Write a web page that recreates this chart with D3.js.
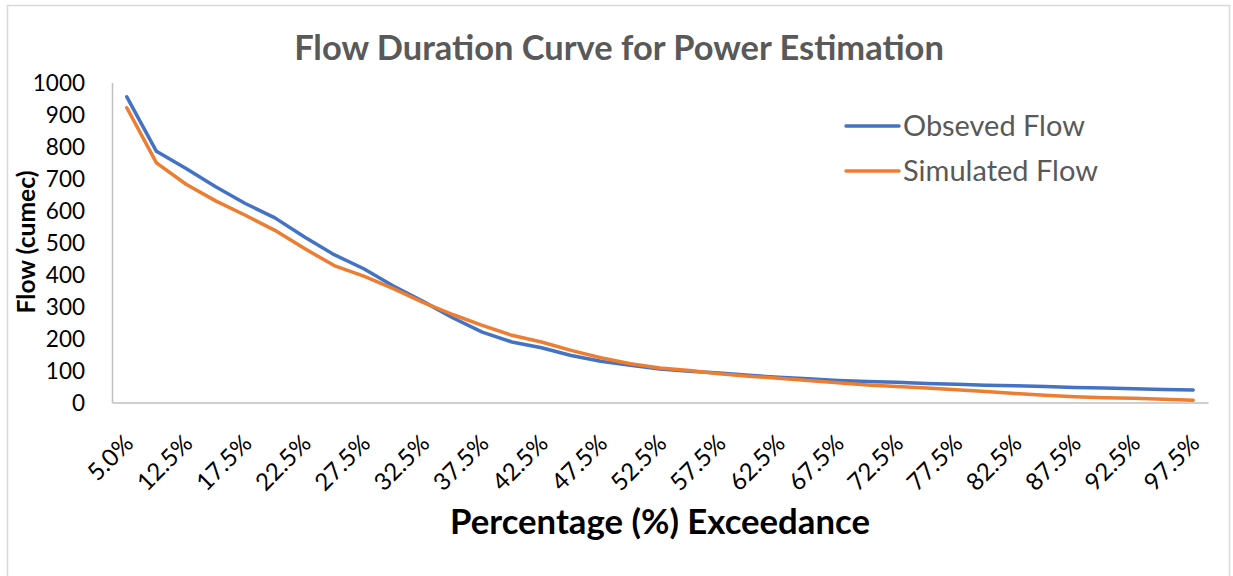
<!DOCTYPE html>
<html>
<head>
<meta charset="utf-8">
<script src="https://cdn.jsdelivr.net/npm/d3@7"></script>
<style>
	body { margin: 0; background: #fff; }
	svg { display: block; font-family: Lato, "Open Sans", sans-serif; }
</style>
</head>
<body>
<svg id="chart" width="1233" height="576"></svg>
<script>
// Chart data
var categories = ["5.0%", "10.0%", "12.5%", "15.0%", "17.5%", "20.0%", "22.5%", "25.0%", "27.5%", "30.0%",
	"32.5%", "35.0%", "37.5%", "40.0%", "42.5%", "45.0%", "47.5%", "50.0%", "52.5%", "55.0%",
	"57.5%", "60.0%", "62.5%", "65.0%", "67.5%", "70.0%", "72.5%", "75.0%", "77.5%", "80.0%",
	"82.5%", "85.0%", "87.5%", "90.0%", "92.5%", "95.0%", "97.5%"];
var observedFlow = [955, 785, 731, 674, 622, 577, 517, 462, 418, 364,
	316, 265, 220, 189, 171, 147, 129, 116, 105, 98,
	92, 85, 79, 74, 69, 66, 63, 59, 57, 54,
	52, 50, 47, 45, 43, 41, 39];
var simulatedFlow = [921, 749, 682, 630, 585, 538, 481, 428, 395, 356,
	313, 275, 241, 210, 189, 163, 140, 121, 108, 100,
	90, 82, 76, 69, 62, 55, 50, 45, 40, 34,
	28, 23, 18, 15, 13, 10, 7];
var yTicks = [0, 100, 200, 300, 400, 500, 600, 700, 800, 900, 1000];
var seriesNames = ["Obseved Flow", "Simulated Flow"];
var seriesColors = ["#4472C4", "#ED7D31"];

var svg = d3.select("#chart");

// Plot area
var plot = {left: 112, right: 1208, top: 82.5, bottom: 402.5};

var x = d3.scaleBand()
	.domain(categories)
	.range([plot.left, plot.right])
	.padding(0);
var y = d3.scaleLinear()
	.domain([0, 1000])
	.range([plot.bottom, plot.top]);
var cx = (d) => x(d) + x.bandwidth() / 2;

// Scale a text node so it spans a given width
var fitWidth = (sel, w) => {
	let len = sel.node().getComputedTextLength();
	let fs = parseFloat(sel.style("font-size"));
	sel.style("font-size", (fs * w / len) + "px");
}

// Chart frame
svg.append("rect")
	.attr("x", 7.5)
	.attr("y", 5.5)
	.attr("width", 1222)
	.attr("height", 620)
	.attr("fill", "none")
	.attr("stroke", "#d9d9d9")
	.attr("stroke-width", 1.5);

// Title
var title = svg.append("text")
	.attr("x", 619)
	.attr("y", 60)
	.attr("text-anchor", "middle")
	.style("font-size", "28px")
	.style("font-weight", "bold")
	.style("fill", "#595959")
	.text("Flow Duration Curve for Power Estimation");
fitWidth(title, 650);

// Y axis
var yAxis = svg.append("g")
	.attr("transform", "translate(" + plot.left + ",0)")
	.call(d3.axisLeft(y).tickValues(yTicks).tickSize(0).tickPadding(27).tickFormat(d3.format("d")));
yAxis.select(".domain").attr("stroke", "#bfbfbf").attr("stroke-width", 1.5);
yAxis.selectAll("text")
	.style("font-family", "Lato, sans-serif")
	.style("font-size", "22.5px")
	.style("fill", "#000")
	.attr("dy", "0.35em");

// X axis
var xAxis = svg.append("g")
	.attr("transform", "translate(0," + plot.bottom + ")")
	.call(d3.axisBottom(x).tickSize(0).tickFormat(""));
xAxis.select(".domain").attr("stroke", "#bfbfbf").attr("stroke-width", 1.5);

// X tick labels, every other category, rotated
svg.append("g")
	.selectAll("text")
	.data(categories.filter((d, i) => i % 2 == 0))
	.enter()
	.append("text")
	.attr("transform", (d) => "translate(" + (cx(d) + 8) + "," + 445 + ") rotate(-45)")
	.attr("text-anchor", "end")
	.style("font-size", "24px")
	.style("fill", "#000")
	.text((d) => d);

// Axis titles
var yTitle = svg.append("text")
	.attr("transform", "translate(35,242) rotate(-90)")
	.attr("text-anchor", "middle")
	.style("font-size", "20px")
	.style("font-weight", "bold")
	.style("fill", "#000")
	.text("Flow (cumec)");
fitWidth(yTitle, 143);

var xTitle = svg.append("text")
	.attr("x", 660)
	.attr("y", 534)
	.attr("text-anchor", "middle")
	.style("font-size", "32px")
	.style("font-weight", "bold")
	.style("fill", "#000")
	.text("Percentage (%) Exceedance");
fitWidth(xTitle, 420);

// Lines
var line = d3.line()
	.x((d, i) => cx(categories[i]))
	.y((d) => y(d));

[observedFlow, simulatedFlow].forEach(function(s, k) {
	svg.append("path")
		.datum(s)
		.attr("d", line)
		.attr("fill", "none")
		.attr("stroke", seriesColors[k])
		.attr("stroke-width", 3.5)
		.attr("stroke-linejoin", "round")
		.attr("stroke-linecap", "round");
});

// Legend
var legend = svg.append("g");
var legendY = [126, 171];
var legendW = [182, 195];
seriesNames.forEach(function(name, k) {
	legend.append("line")
		.attr("x1", 846)
		.attr("x2", 899)
		.attr("y1", legendY[k])
		.attr("y2", legendY[k])
		.attr("stroke", seriesColors[k])
		.attr("stroke-width", 3.5)
		.attr("stroke-linecap", "round");
	let t = legend.append("text")
		.attr("x", 903)
		.attr("y", legendY[k] + 10)
		.style("font-size", "26px")
		.style("fill", "#595959")
		.text(name);
	fitWidth(t, legendW[k]);
});
</script>
</body>
</html>
